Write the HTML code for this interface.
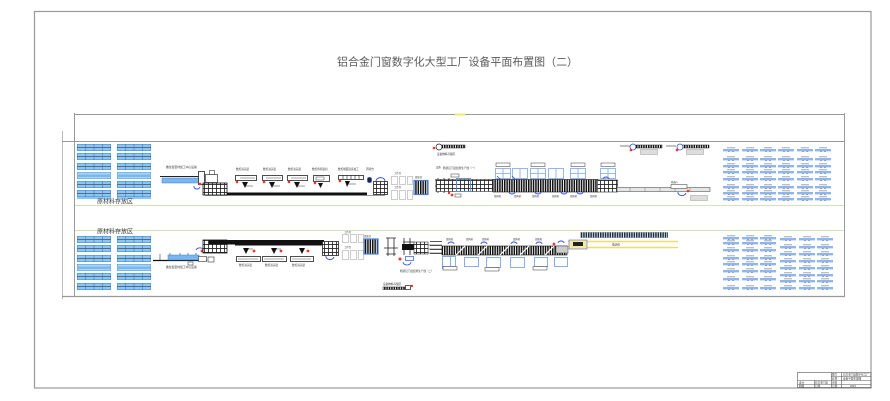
<!DOCTYPE html>
<html><head><meta charset="utf-8"><style>
html,body{margin:0;padding:0;background:#fff;}
svg{display:block;}
text{font-family:"Liberation Sans","Noto Sans CJK SC",sans-serif;}
</style></head><body>
<svg width="890" height="401" viewBox="0 0 890 401" xmlns="http://www.w3.org/2000/svg">
<defs>
<pattern id="vl" width="2.4" height="20" patternUnits="userSpaceOnUse"><rect width="2.4" height="20" fill="#fff"/><rect width="1.5" height="20" fill="#111"/></pattern>
<pattern id="gr" width="4" height="4" patternUnits="userSpaceOnUse"><rect width="4" height="4" fill="#fff"/><path d="M0 0.4H4M0.4 0V4" stroke="#222" stroke-width="0.9"/></pattern>
<pattern id="lg" width="5" height="5" patternUnits="userSpaceOnUse"><rect width="5" height="5" fill="#fff"/><path d="M0 0.4H5M0.4 0V5" stroke="#aaa" stroke-width="0.6"/></pattern>
<symbol id="rk" viewBox="0 0 34 7" width="34" height="7">
<rect x="0.3" y="0.3" width="33.4" height="6.4" fill="#8cc6f2" stroke="#3f8fdc" stroke-width="0.6"/>
<line x1="0" y1="3.5" x2="34" y2="3.5" stroke="#5d6a80" stroke-width="0.9"/>
<line x1="8.5" y1="0" x2="8.5" y2="7" stroke="#2f6fc0" stroke-width="0.5"/>
<line x1="17" y1="0" x2="17" y2="7" stroke="#2f6fc0" stroke-width="0.5"/>
<line x1="25.5" y1="0" x2="25.5" y2="7" stroke="#2f6fc0" stroke-width="0.5"/>
</symbol>
<symbol id="rk2" viewBox="0 0 34 7" width="34" height="7">
<rect x="0.3" y="0.3" width="33.4" height="6.4" fill="#a9d6f7" stroke="#5aa0e0" stroke-width="0.6"/>
<rect x="0" y="2.5" width="34" height="2.5" fill="#7ab8ee"/>
</symbol>
<symbol id="it" viewBox="0 0 16 6" width="16" height="6">
<line x1="4" y1="0.8" x2="12" y2="0.8" stroke="#9a9a9a" stroke-width="0.9"/>
<rect x="0" y="2" width="16" height="2.4" fill="#8db6f0"/>
<line x1="5" y1="4.6" x2="7" y2="4.6" stroke="#999" stroke-width="0.8"/>
<line x1="9" y1="4.6" x2="11" y2="4.6" stroke="#999" stroke-width="0.8"/>
</symbol>
</defs>

<rect x="34.5" y="11.5" width="836.5" height="376.5" fill="none" stroke="#999" stroke-width="1.2"/>

<text x="337" y="65.5" font-size="11" fill="#5a5a5a" textLength="241" lengthAdjust="spacingAndGlyphs">铝合金门窗数字化大型工厂设备平面布置图（二）</text>

<line x1="74" y1="114.5" x2="845" y2="114.5" stroke="#999" stroke-width="1"/>
<rect x="455" y="113.5" width="10" height="2" fill="#f3e86a"/>
<line x1="74.5" y1="113" x2="74.5" y2="297" stroke="#999" stroke-width="1"/>
<line x1="844.5" y1="113" x2="844.5" y2="297" stroke="#999" stroke-width="1"/>
<line x1="62.5" y1="131" x2="62.5" y2="299" stroke="#aaa" stroke-width="0.8"/>
<line x1="62" y1="141.5" x2="845" y2="141.5" stroke="#999" stroke-width="1"/>
<line x1="62" y1="296.5" x2="845" y2="296.5" stroke="#999" stroke-width="1.2"/>
<line x1="75" y1="205.5" x2="844" y2="205.5" stroke="#cfe3bd" stroke-width="1"/>
<line x1="75" y1="230.5" x2="844" y2="230.5" stroke="#cfe3bd" stroke-width="1"/>

<use href="#rk" x="77" y="144"/><use href="#rk" x="117" y="144"/>
<use href="#rk" x="77" y="153"/><use href="#rk" x="117" y="153"/>
<use href="#rk" x="77" y="163"/><use href="#rk" x="117" y="163"/>
<use href="#rk2" x="77" y="172"/><use href="#rk2" x="117" y="172"/>
<use href="#rk" x="77" y="181"/><use href="#rk" x="117" y="181"/>
<use href="#rk" x="77" y="190"/><use href="#rk" x="117" y="190"/>
<rect x="77" y="197" width="34" height="2" fill="#8cc6f2"/><rect x="117" y="197" width="34" height="2" fill="#8cc6f2"/>
<text x="97" y="203.5" font-size="6" fill="#333" textLength="36" lengthAdjust="spacingAndGlyphs">原材料存放区</text>

<text x="97" y="233.5" font-size="6" fill="#333" textLength="36" lengthAdjust="spacingAndGlyphs">原材料存放区</text>
<use href="#rk" x="77" y="236"/><use href="#rk" x="117" y="236"/>
<use href="#rk" x="77" y="245"/><use href="#rk" x="117" y="245"/>
<use href="#rk" x="77" y="255"/><use href="#rk" x="117" y="255"/>
<use href="#rk2" x="77" y="264"/><use href="#rk2" x="117" y="264"/>
<use href="#rk" x="77" y="273"/><use href="#rk" x="117" y="273"/>
<use href="#rk" x="77" y="283"/><use href="#rk" x="117" y="283"/>

<text x="166" y="168" font-size="2.8" fill="#333">推拉窗型材加工中心设备</text>
<line x1="160" y1="176.5" x2="203" y2="176.5" stroke="#222" stroke-width="0.9"/>
<rect x="162" y="178" width="37" height="5" fill="#79b6ee" stroke="#3a7fd0" stroke-width="0.5"/>
<rect x="198.5" y="171.5" width="6" height="13" fill="#fff" stroke="#222" stroke-width="0.8"/>
<rect x="205.5" y="174.5" width="12" height="8" fill="#fff" stroke="#333" stroke-width="0.7"/>
<rect x="209.5" y="170.5" width="5" height="4" fill="#fff" stroke="#333" stroke-width="0.6"/>
<path d="M194 186 A3 2.5 0 0 0 200 187" fill="none" stroke="#2b50e0" stroke-width="0.9"/>
<circle cx="200" cy="184" r="1.4" fill="#e33"/>
<rect x="203" y="183" width="24" height="12" fill="url(#gr)" stroke="#111" stroke-width="0.8"/>
<rect x="227" y="192.5" width="140" height="2.6" fill="#111"/>
<line x1="205" y1="195.5" x2="385" y2="195.5" stroke="#333" stroke-width="0.6"/>

<g>
<text x="236" y="170" font-size="2.6" fill="#333">数控双头锯</text>
<rect x="235.5" y="175.5" width="21" height="5" fill="#fff" stroke="#222" stroke-width="0.8"/><line x1="240" y1="178" x2="255" y2="178" stroke="#444" stroke-width="0.5"/>
<circle cx="237" cy="182" r="1.3" fill="#e33"/><path d="M242 182h6l-3 6z" fill="#111"/><line x1="245" y1="186" x2="253" y2="186" stroke="#333" stroke-width="0.5"/>
</g>
<g>
<text x="263" y="170" font-size="2.6" fill="#333">数控双头锯</text>
<rect x="262.5" y="175.5" width="20" height="5" fill="#fff" stroke="#222" stroke-width="0.8"/><line x1="266" y1="178" x2="281" y2="178" stroke="#444" stroke-width="0.5"/>
<circle cx="264" cy="182" r="1.3" fill="#e33"/><path d="M269 182h6l-3 6z" fill="#111"/><line x1="272" y1="186" x2="280" y2="186" stroke="#333" stroke-width="0.5"/>
</g>
<g>
<text x="288" y="170" font-size="2.6" fill="#333">数控双头锯</text>
<rect x="287.5" y="175.5" width="20" height="5" fill="#fff" stroke="#222" stroke-width="0.8"/><line x1="291" y1="178" x2="306" y2="178" stroke="#444" stroke-width="0.5"/>
<circle cx="289" cy="182" r="1.3" fill="#e33"/><path d="M294 182h6l-3 6z" fill="#111"/><line x1="297" y1="186" x2="305" y2="186" stroke="#333" stroke-width="0.5"/>
</g>
<g>
<text x="312" y="170" font-size="2.6" fill="#333">数控角码锯切</text>
<rect x="313.5" y="175.5" width="16" height="6" fill="#fff" stroke="#222" stroke-width="0.8"/><rect x="316" y="177" width="8" height="3" fill="#fff" stroke="#444" stroke-width="0.5"/>
<circle cx="315" cy="183" r="1.3" fill="#e33"/><path d="M318 183h5l-2.5 5z" fill="#111"/>
</g>
<g>
<text x="338" y="170" font-size="2.6" fill="#333">数控端面铣床加工</text>
<rect x="338.5" y="175.5" width="25" height="4" fill="#fff" stroke="#222" stroke-width="0.8"/>
<path d="M343 175v4M347 175v4M351 175v4M355 175v4M359 175v4" stroke="#222" stroke-width="0.6"/>
<circle cx="340" cy="181" r="1.3" fill="#e33"/><path d="M345 181h5l-3 6z" fill="#111"/><line x1="348" y1="184" x2="356" y2="184" stroke="#333" stroke-width="0.5"/>
</g>
<text x="366" y="170" font-size="2.6" fill="#333">周转台</text>
<rect x="367.5" y="177.5" width="4" height="5" rx="1.5" fill="#223" stroke="#2b50e0" stroke-width="0.7"/>
<path d="M376 181 A4 3 0 0 1 385 181" fill="none" stroke="#2b50e0" stroke-width="0.9"/>
<rect x="373.5" y="181.5" width="14" height="13" fill="url(#gr)" stroke="#222" stroke-width="0.8"/>
<text x="394" y="174" font-size="2.4" fill="#333">工作台</text>
<rect x="391.5" y="176.5" width="6" height="8" fill="#fff" stroke="#aaa" stroke-width="0.6"/><rect x="399.5" y="176.5" width="6" height="8" fill="#fff" stroke="#aaa" stroke-width="0.6"/><rect x="407.5" y="176.5" width="5" height="8" fill="#fff" stroke="#aaa" stroke-width="0.6"/>
<text x="394" y="188" font-size="2.4" fill="#333">工作台</text>
<rect x="391.5" y="190.5" width="6" height="9" fill="#fff" stroke="#aaa" stroke-width="0.6"/><rect x="399.5" y="190.5" width="6" height="9" fill="#fff" stroke="#aaa" stroke-width="0.6"/><rect x="407.5" y="190.5" width="5" height="9" fill="#fff" stroke="#aaa" stroke-width="0.6"/>
<text x="415" y="178" font-size="2.4" fill="#333">组装台</text>
<rect x="414" y="180.5" width="14" height="14" fill="url(#vl)" stroke="#4a80d4" stroke-width="1.2"/>
<text x="436" y="168" font-size="2.4" fill="#333">设备</text>
<path d="M435 180H450M435 186H450M438 178V193M444 178V193M449 178V193" stroke="#222" stroke-width="0.8" fill="none"/>
<circle cx="449" cy="193" r="1.2" fill="#e33"/>
<path d="M436 147a3 3 0 1 1 6 0a3 3 0 1 1 -6 0" fill="none" stroke="#222" stroke-width="0.7"/>
<rect x="442" y="145" width="23" height="3" fill="url(#vl)" stroke="#222" stroke-width="0.5"/>
<circle cx="434" cy="148" r="1.3" fill="#e33"/>
<text x="437" y="155" font-size="2.6" fill="#333">设备物料存储区</text>

<path d="M620 146h10" stroke="#333" stroke-width="0.6"/>
<circle cx="633" cy="147" r="3" fill="none" stroke="#2b50e0" stroke-width="0.8"/>
<rect x="636" y="145" width="26" height="3" fill="url(#vl)" stroke="#222" stroke-width="0.5"/>
<circle cx="631" cy="150" r="1.3" fill="#e33"/>
<rect x="640.5" y="149.5" width="17" height="5" fill="#ddd" stroke="#999" stroke-width="0.5"/>
<path d="M666 146h10" stroke="#333" stroke-width="0.6"/>
<circle cx="680" cy="147" r="3" fill="none" stroke="#2b50e0" stroke-width="0.8"/>
<rect x="683" y="145" width="26" height="3" fill="url(#vl)" stroke="#222" stroke-width="0.5"/>
<circle cx="677" cy="150" r="1.3" fill="#e33"/>
<rect x="686.5" y="149.5" width="17" height="5" fill="#ddd" stroke="#999" stroke-width="0.5"/>

<text x="443" y="169" font-size="2.6" fill="#333">断桥铝门窗组角生产线（一）</text>
<rect x="451" y="174" width="8" height="3" fill="none" stroke="#333" stroke-width="0.5"/>
<rect x="436" y="179.5" width="57" height="12" fill="url(#gr)" stroke="#333" stroke-width="0.6"/>
<rect x="456.5" y="178.5" width="14" height="13" fill="none" stroke="#5a8ee0" stroke-width="0.9"/>
<circle cx="452" cy="195" r="1.4" fill="#e33"/><rect x="455" y="194" width="6" height="3" fill="none" stroke="#333" stroke-width="0.5"/>
<rect x="493" y="179.5" width="105" height="12.5" fill="url(#vl)" stroke="#111" stroke-width="0.6"/>
<rect x="597.5" y="180" width="20" height="12" fill="url(#gr)" stroke="#222" stroke-width="0.6"/>
<rect x="617" y="187.5" width="93" height="4" fill="#e6e6e6" stroke="#555" stroke-width="0.6"/>
<path d="M630 187.5v4M645 187.5v4M660 187.5v4M675 187.5v4M690 187.5v4" stroke="#777" stroke-width="0.5"/>
<text x="671" y="183" font-size="2.4" fill="#333">机器人</text>
<rect x="671" y="184.5" width="16" height="4" fill="#fff" stroke="#333" stroke-width="0.5"/>
<path d="M678 192 A4 3 0 0 0 686 193" fill="none" stroke="#2b50e0" stroke-width="0.9"/>
<circle cx="688" cy="191" r="1.3" fill="#e33"/>
<rect x="690.5" y="195.5" width="17" height="5" fill="#ddd" stroke="#999" stroke-width="0.5"/>
<g fill="none" stroke="#7aa6ee" stroke-width="0.8">
<rect x="495.5" y="168.5" width="15" height="10"/><rect x="512.5" y="168.5" width="15" height="10"/>
<rect x="530.5" y="168.5" width="15" height="10"/><rect x="548.5" y="168.5" width="15" height="10"/>
<rect x="570.5" y="168.5" width="15" height="10"/><rect x="600.5" y="168.5" width="15" height="10"/>
<path d="M503 168.5v10M520 168.5v10M538 168.5v10M556 168.5v10M578 168.5v10M608 168.5v10M495 173.5h16M530 173.5h16M570 173.5h16M600 173.5h16"/>
</g>
<g fill="#fff" stroke="#333" stroke-width="0.5">
<rect x="496" y="163" width="14" height="3.5"/><rect x="531" y="163" width="14" height="3.5"/>
<rect x="571" y="163" width="14" height="3.5"/><rect x="601" y="163" width="14" height="3.5"/>
</g>
<path d="M497 176l3 3M512 176l3 3" stroke="#2b50e0" stroke-width="0.8"/>
<g fill="none" stroke="#2b50e0" stroke-width="0.9">
<path d="M509 192a3 2 0 0 0 6 0"/><path d="M535 192a3 2 0 0 0 6 0"/><path d="M561 192a3 2 0 0 0 6 0"/><path d="M577 192a3 2 0 0 0 6 0"/><path d="M603 179a3 2 0 0 1 6 0"/>
</g>
<g font-size="2.4" fill="#333">
<text x="494" y="197">组角机</text><text x="514" y="197">组角机</text><text x="532" y="197">组角机</text><text x="552" y="197">组角机</text><text x="570" y="197">组角机</text><text x="590" y="197">组角机</text>
</g>

<g>
<use href="#it" x="723" y="147"/><use href="#it" x="742" y="147"/><use href="#it" x="760" y="147"/><use href="#it" x="778" y="147"/><use href="#it" x="797" y="147"/><use href="#it" x="815" y="147"/>
<use href="#it" x="723" y="156"/><use href="#it" x="742" y="156"/><use href="#it" x="760" y="156"/><use href="#it" x="778" y="156"/><use href="#it" x="797" y="156"/><use href="#it" x="815" y="156"/>
<use href="#it" x="723" y="163"/><use href="#it" x="742" y="163"/><use href="#it" x="760" y="163"/><use href="#it" x="778" y="163"/><use href="#it" x="797" y="163"/><use href="#it" x="815" y="163"/>
<use href="#it" x="723" y="169"/><use href="#it" x="742" y="169"/><use href="#it" x="760" y="169"/><use href="#it" x="778" y="169"/><use href="#it" x="797" y="169"/><use href="#it" x="815" y="169"/>
<use href="#it" x="723" y="176"/><use href="#it" x="742" y="176"/><use href="#it" x="760" y="176"/><use href="#it" x="778" y="176"/><use href="#it" x="797" y="176"/><use href="#it" x="815" y="176"/>
<use href="#it" x="723" y="184"/><use href="#it" x="742" y="184"/><use href="#it" x="760" y="184"/><use href="#it" x="778" y="184"/><use href="#it" x="797" y="184"/><use href="#it" x="815" y="184"/>
<use href="#it" x="723" y="190"/><use href="#it" x="742" y="190"/><use href="#it" x="760" y="190"/><use href="#it" x="778" y="190"/><use href="#it" x="797" y="190"/><use href="#it" x="815" y="190"/>
<use href="#it" x="723" y="196"/><use href="#it" x="742" y="196"/><use href="#it" x="760" y="196"/><use href="#it" x="778" y="196"/><use href="#it" x="797" y="196"/><use href="#it" x="815" y="196"/>
</g>

<line x1="153" y1="260.5" x2="207" y2="260.5" stroke="#111" stroke-width="1.2"/>
<path d="M160 254v6M170 253v7M180 253v7M188 253v7M196 253v7" stroke="#333" stroke-width="0.6"/>
<rect x="168" y="255" width="31" height="5" fill="#79b6ee" stroke="#3a7fd0" stroke-width="0.5"/>
<rect x="198.5" y="256.5" width="8" height="5" fill="#fff" stroke="#333" stroke-width="0.6"/>
<rect x="208" y="257" width="6" height="5" fill="#fff" stroke="#333" stroke-width="0.6"/>
<text x="166" y="268" font-size="2.8" fill="#333">推拉窗型材加工中心设备</text>
<rect x="188" y="262" width="5" height="3" fill="none" stroke="#333" stroke-width="0.5"/>
<path d="M196 250 A4 3 0 0 1 203 249" fill="none" stroke="#2b50e0" stroke-width="0.9"/>
<circle cx="202" cy="251" r="1.4" fill="#e33"/>
<rect x="203" y="240" width="24" height="13" fill="url(#gr)" stroke="#111" stroke-width="0.8"/>
<rect x="209" y="240" width="115" height="4.5" fill="#111"/>
<rect x="235" y="244" width="95" height="1.5" fill="#111"/>
<g>
<path d="M243 248h6l-3 6z" fill="#111"/><circle cx="254" cy="251" r="1.4" fill="#e33"/><line x1="248" y1="249" x2="253" y2="249" stroke="#333" stroke-width="0.5"/>
<rect x="236.5" y="256.5" width="24" height="5" fill="#fff" stroke="#222" stroke-width="0.8"/><line x1="238" y1="259" x2="258" y2="259" stroke="#555" stroke-width="0.5"/>
<text x="239" y="266" font-size="2.6" fill="#333">数控双头锯</text>
</g>
<g>
<path d="M271 248h6l-3 6z" fill="#111"/><circle cx="281" cy="251" r="1.4" fill="#e33"/><line x1="276" y1="249" x2="281" y2="249" stroke="#333" stroke-width="0.5"/>
<rect x="262.5" y="256.5" width="24" height="5" fill="#fff" stroke="#222" stroke-width="0.8"/><line x1="264" y1="259" x2="284" y2="259" stroke="#555" stroke-width="0.5"/>
<text x="265" y="266" font-size="2.6" fill="#333">数控双头锯</text>
</g>
<g>
<path d="M299 248h6l-3 6z" fill="#111"/><circle cx="308" cy="251" r="1.4" fill="#e33"/>
<rect x="290.5" y="256.5" width="23" height="5" fill="#fff" stroke="#222" stroke-width="0.8"/><line x1="292" y1="259" x2="311" y2="259" stroke="#555" stroke-width="0.5"/>
<text x="292" y="266" font-size="2.6" fill="#333">数控双头锯</text>
</g>
<rect x="322.5" y="241.5" width="16" height="14" fill="url(#gr)" stroke="#222" stroke-width="0.8"/>
<path d="M326 256 A4 3 0 0 0 334 257" fill="none" stroke="#2b50e0" stroke-width="0.9"/>
<text x="344" y="233" font-size="2.4" fill="#333">工作台</text>
<rect x="342.5" y="234.5" width="6" height="8" fill="#fff" stroke="#aaa" stroke-width="0.6"/><rect x="350.5" y="234.5" width="6" height="8" fill="#fff" stroke="#aaa" stroke-width="0.6"/><rect x="358.5" y="234.5" width="5" height="8" fill="#fff" stroke="#aaa" stroke-width="0.6"/>
<text x="344" y="248" font-size="2.4" fill="#333">工作台</text>
<rect x="342.5" y="250.5" width="6" height="9" fill="#fff" stroke="#aaa" stroke-width="0.6"/><rect x="350.5" y="250.5" width="6" height="9" fill="#fff" stroke="#aaa" stroke-width="0.6"/><rect x="358.5" y="250.5" width="5" height="9" fill="#fff" stroke="#aaa" stroke-width="0.6"/>
<text x="364" y="237" font-size="2.4" fill="#333">组装台</text>
<rect x="364" y="239" width="14" height="15" fill="url(#vl)" stroke="#4a80d4" stroke-width="1.2"/>
<path d="M384 248H398M388 238V256M394 238V256M386 238H396M386 254H396" stroke="#222" stroke-width="0.8" fill="none"/>
<path d="M404 238V255M410 238V255M403 242H414M403 248H414" stroke="#222" stroke-width="0.8" fill="none"/>
<rect x="402" y="244" width="14" height="6" fill="#111"/>
<rect x="414" y="242" width="14" height="12" fill="url(#gr)" stroke="#333" stroke-width="0.6"/>
<path d="M428 245H442M428 249H442M428 253H442" stroke="#333" stroke-width="0.6"/>
<circle cx="400" cy="259" r="1.5" fill="#e33"/>
<rect x="405.5" y="256.5" width="8" height="4" fill="none" stroke="#2b50e0" stroke-width="0.7"/>
<path d="M403 262 A4 3 0 0 0 411 262" fill="none" stroke="#2b50e0" stroke-width="0.8"/>
<text x="400" y="272" font-size="2.6" fill="#333">断桥铝门窗组角生产线（二）</text>
<rect x="442.5" y="256.5" width="8" height="12" fill="none" stroke="#7aa6ee" stroke-width="0.9"/>
<text x="383" y="285" font-size="2.6" fill="#333">设备物料存储区</text>
<rect x="383" y="287" width="22" height="2.5" fill="url(#vl)" stroke="#222" stroke-width="0.5"/>
<rect x="405.5" y="285.5" width="5" height="4" fill="#fff" stroke="#222" stroke-width="0.7"/>
<circle cx="412" cy="286" r="1.2" fill="#e33"/>

<path d="M430 241.5h12M430 245.5h12M430 249.5h12M430 253.5h12" stroke="#222" stroke-width="0.7"/>
<rect x="442" y="246" width="125" height="9" fill="url(#vl)" stroke="#111" stroke-width="0.6"/>
<g stroke="#fff" stroke-width="1.2">
<path d="M456 255l9-9M478 255l9-9M500 255l9-9M520 255l9-9M545 255l9-9"/>
</g>
<g fill="none" stroke="#2b50e0" stroke-width="0.9">
<path d="M448 244a3 2 0 0 1 6 0"/><path d="M481 244a3 2 0 0 1 6 0"/><path d="M511 244a3 2 0 0 1 6 0"/><path d="M536 244a3 2 0 0 1 6 0"/><path d="M558 243a3 2 0 0 1 6 0"/>
</g>
<g font-size="2.4" fill="#333">
<text x="446" y="240">组角机</text><text x="466" y="240">组角机</text><text x="482" y="240">组角机</text><text x="513" y="240">组角机</text><text x="535" y="240">组角机</text>
</g>
<g fill="none" stroke="#7aa6ee" stroke-width="0.9">
<rect x="442.5" y="256.5" width="13" height="10"/><rect x="464.5" y="257.5" width="14" height="9"/>
<rect x="486.5" y="257.5" width="14" height="10"/><rect x="510.5" y="257.5" width="14" height="10"/>
<rect x="534.5" y="257.5" width="13" height="9"/><rect x="554.5" y="257.5" width="13" height="9"/>
</g>
<g fill="#fff" stroke="#333" stroke-width="0.5">
<rect x="443" y="266.5" width="14" height="3.5"/><rect x="485" y="267.5" width="14" height="3.5"/><rect x="533" y="266.5" width="14" height="3.5"/>
</g>
<rect x="556" y="246" width="12" height="7" fill="#ccc" stroke="#444" stroke-width="0.5"/>
<circle cx="554" cy="244" r="1.4" fill="#e33"/>
<line x1="568" y1="241.5" x2="678" y2="241.5" stroke="#f0da6a" stroke-width="1.5"/>
<line x1="568" y1="247.5" x2="678" y2="247.5" stroke="#f0da6a" stroke-width="1.5"/>
<rect x="569" y="240" width="18" height="9" fill="#f7e9a0" stroke="#2b50e0" stroke-width="0.5"/>
<rect x="573" y="242" width="10" height="4" fill="#222"/>
<text x="612" y="245.5" font-size="2.6" fill="#333">输送线</text>
<rect x="580" y="232" width="88" height="6" fill="#8fb8f0"/>
<rect x="580" y="232.5" width="88" height="5" fill="url(#vl)" opacity="0.85"/>

<g>
<use href="#it" x="723" y="235"/><use href="#it" x="742" y="235"/><use href="#it" x="760" y="235"/>
<use href="#it" x="723" y="240"/><use href="#it" x="742" y="240"/><use href="#it" x="760" y="240"/>
<use href="#it" x="723" y="247"/><use href="#it" x="742" y="247"/><use href="#it" x="760" y="247"/>
<use href="#it" x="723" y="255"/><use href="#it" x="742" y="255"/><use href="#it" x="760" y="255"/>
<use href="#it" x="723" y="261"/><use href="#it" x="742" y="261"/><use href="#it" x="760" y="261"/>
<use href="#it" x="723" y="268"/><use href="#it" x="742" y="268"/><use href="#it" x="760" y="268"/>
<use href="#it" x="723" y="276"/><use href="#it" x="742" y="276"/><use href="#it" x="760" y="276"/>
<use href="#it" x="723" y="285"/><use href="#it" x="742" y="285"/><use href="#it" x="760" y="285"/>
<use href="#it" x="780" y="236"/><use href="#it" x="799" y="236"/><use href="#it" x="817" y="236"/>
<use href="#it" x="780" y="244"/><use href="#it" x="799" y="244"/><use href="#it" x="817" y="244"/>
<use href="#it" x="780" y="251"/><use href="#it" x="799" y="251"/><use href="#it" x="817" y="251"/>
<use href="#it" x="780" y="258"/><use href="#it" x="799" y="258"/><use href="#it" x="817" y="258"/>
<use href="#it" x="780" y="265"/><use href="#it" x="799" y="265"/><use href="#it" x="817" y="265"/>
<use href="#it" x="780" y="272"/><use href="#it" x="799" y="272"/><use href="#it" x="817" y="272"/>
<use href="#it" x="780" y="278"/><use href="#it" x="799" y="278"/><use href="#it" x="817" y="278"/>
<use href="#it" x="780" y="285"/><use href="#it" x="799" y="285"/><use href="#it" x="817" y="285"/>
</g>

<g fill="none" stroke="#555" stroke-width="0.6">
<rect x="797.5" y="372.5" width="73.5" height="15"/>
<line x1="831" y1="376.5" x2="871" y2="376.5"/>
<line x1="797.5" y1="380.5" x2="871" y2="380.5"/>
<line x1="797.5" y1="384.5" x2="871" y2="384.5"/>
<line x1="814.5" y1="380.5" x2="814.5" y2="388"/>
<line x1="831.5" y1="372.5" x2="831.5" y2="388"/>
<line x1="841.5" y1="372.5" x2="841.5" y2="388"/>
</g>
<g font-size="2.6" fill="#333">
<text x="832" y="375.5">图号</text><text x="843" y="375.5">铝合金门窗数字化工厂</text>
<text x="832" y="379.5">比例</text><text x="843" y="379.5">设备平面布置图</text>
<text x="799" y="383.5">设计</text><text x="815" y="383.5">铝合金门窗</text><text x="832" y="383.5">审核</text>
<text x="799" y="387">制图</text><text x="815" y="387">日期</text><text x="832" y="387">日期</text><text x="850" y="387">2023</text>
</g>
</svg>
</body></html>
